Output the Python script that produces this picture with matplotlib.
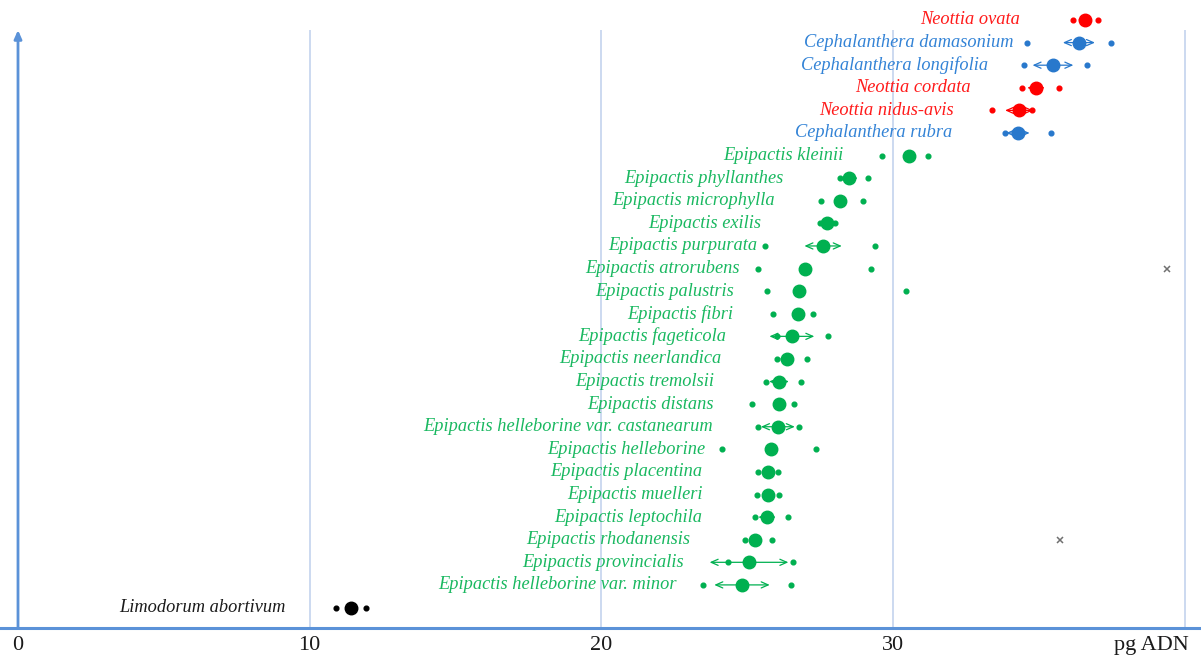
import matplotlib
matplotlib.use("Agg")
import matplotlib.pyplot as plt

# ---------------- data ----------------
species = [
    "Neottia ovata", "Cephalanthera damasonium", "Cephalanthera longifolia",
    "Neottia cordata", "Neottia nidus-avis", "Cephalanthera rubra",
    "Epipactis kleinii", "Epipactis phyllanthes", "Epipactis microphylla",
    "Epipactis exilis", "Epipactis purpurata", "Epipactis atrorubens",
    "Epipactis palustris", "Epipactis fibri", "Epipactis fageticola",
    "Epipactis neerlandica", "Epipactis tremolsii", "Epipactis distans",
    "Epipactis helleborine var. castanearum", "Epipactis helleborine",
    "Epipactis placentina", "Epipactis muelleri", "Epipactis leptochila",
    "Epipactis rhodanensis", "Epipactis provincialis",
    "Epipactis helleborine var. minor", "Limodorum abortivum",
]
genus = [
    "Neottia", "Cephalanthera", "Cephalanthera", "Neottia", "Neottia",
    "Cephalanthera",
    "Epipactis", "Epipactis", "Epipactis", "Epipactis", "Epipactis",
    "Epipactis", "Epipactis", "Epipactis", "Epipactis", "Epipactis",
    "Epipactis", "Epipactis", "Epipactis", "Epipactis", "Epipactis",
    "Epipactis", "Epipactis", "Epipactis", "Epipactis", "Epipactis",
    "Limodorum",
]
mean_pg = [36.58, 36.37, 35.48, 34.90, 34.32, 34.28,
           30.55, 28.49, 28.18, 27.73, 27.60, 26.98, 26.77, 26.74, 26.53,
           26.36, 26.09, 26.09, 26.05, 25.81, 25.71, 25.71, 25.68, 25.27,
           25.06, 24.82, 11.41]
sd_pg = [0.25, 0.55, 0.70, 0.30, 0.48, 0.40,
         0.20, 0.30, 0.20, 0.20, 0.64, 0.20, 0.20, 0.20, 0.77,
         0.25, 0.34, 0.20, 0.58, 0.20, 0.20, 0.20, 0.30, 0.20,
         1.35, 0.95, 0.20]
min_pg = [36.17, 34.59, 34.49, 34.42, 33.39, 33.84,
          29.62, 28.18, 27.53, 27.50, 25.61, 25.37, 25.68, 25.88, 26.02,
          26.02, 25.64, 25.16, 25.37, 24.13, 25.37, 25.33, 25.27, 24.92,
          24.34, 23.48, 10.90]
max_pg = [37.02, 37.47, 36.65, 35.69, 34.76, 35.41,
          31.20, 29.14, 28.97, 28.00, 29.38, 29.24, 30.44, 27.25, 27.77,
          27.05, 26.84, 26.60, 26.77, 27.36, 26.05, 26.09, 26.40, 25.85,
          26.57, 26.50, 11.93]
outlier_species = ["Epipactis atrorubens", "Epipactis rhodanensis"]
outlier_pg = [39.39, 35.72]

x_ticks = [0, 10, 20, 30]
x_tick_labels = ["0", "10", "20", "30"]
x_unit_label = "pg ADN"

genus_colors = {"Neottia": "#FF0000", "Cephalanthera": "#2878CC",
                "Epipactis": "#00B050", "Limodorum": "#000000"}
text_colors = {"Neottia": "#FF1A1A", "Cephalanthera": "#3383D6",
               "Epipactis": "#19B860", "Limodorum": "#1A1A1A"}

# ---------------- figure ----------------
fig = plt.figure(figsize=(12.01, 6.58), dpi=100)
ax = fig.add_axes([0, 30 / 658, 1, 628 / 658])

n = len(species)
ypos = {s: n - 1 - i for i, s in enumerate(species)}
x0, x1 = -18 / 29.17, (1201 - 18) / 29.17
y_bottom = -(628 - 607.5) / 22.6
y_top = (n - 1) + 20 / 22.6
y_axis_top = (n - 1) - (30 - 20) / 22.6
ax.set_xlim(x0, x1)
ax.set_ylim(y_bottom, y_top)

# grid lines
for gx in [10, 20, 30, 40]:
    ax.plot([gx, gx], [y_bottom, y_axis_top], color="#C8D7EF", lw=1.3,
            zorder=0, solid_capstyle="butt")

# y-axis arrow
ax.annotate("", xy=(0, y_axis_top), xytext=(0, y_bottom),
            arrowprops=dict(arrowstyle="-|>,head_length=0.5,head_width=0.22",
                            color="#5B92D8", lw=2, shrinkA=0, shrinkB=0))

for s in ["top", "right", "left"]:
    ax.spines[s].set_visible(False)
ax.spines["bottom"].set_color("#5B92D8")
ax.spines["bottom"].set_linewidth(2.2)
ax.set_xticks([])
ax.set_yticks([])

for i, s in enumerate(species):
    y = ypos[s]
    c = genus_colors[genus[i]]
    m, sd = mean_pg[i], sd_pg[i]
    ax.annotate("", xy=(m + sd, y), xytext=(m - sd, y),
                arrowprops=dict(arrowstyle="<->,head_length=0.5,head_width=0.22",
                                color=c, lw=0.9, shrinkA=0, shrinkB=0),
                zorder=2)
    ax.plot([min_pg[i], max_pg[i]], [y, y], ls="none", marker="o",
            ms=3.4, color=c, mec=c, zorder=3)
    ax.plot([m], [y], ls="none", marker="o", ms=9, color=c, mec=c, zorder=4)
    ax.annotate(s, xy=(m, y), xytext=(-47, 0), textcoords="offset points",
                ha="right", va="center", fontsize=13.2, style="italic",
                family="Liberation Serif", color=text_colors[genus[i]])

for s, v in zip(outlier_species, outlier_pg):
    ax.plot([v], [ypos[s]], ls="none", marker="x", ms=4.5, mew=1.1,
            color="#707070", zorder=3)

# x tick labels
for t, lab in zip(x_ticks, x_tick_labels):
    ax.text(t, -0.012, lab, transform=ax.get_xaxis_transform(), ha="center",
            va="top", fontsize=16, family="Liberation Serif", color="#1A1A1A",
            clip_on=False)
ax.text(40.15, -0.012, x_unit_label, transform=ax.get_xaxis_transform(),
        ha="right", va="top", fontsize=16, family="Liberation Serif",
        color="#1A1A1A", clip_on=False)

fig.savefig("out.png", dpi=100)
